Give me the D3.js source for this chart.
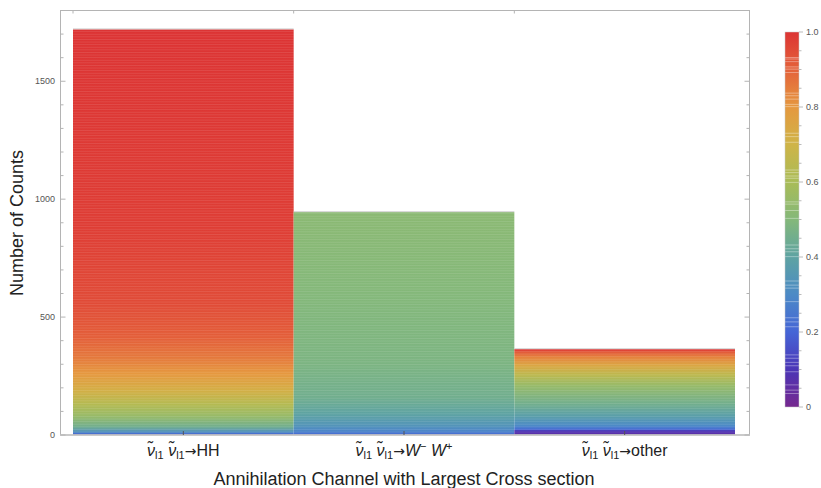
<!doctype html>
<html lang="en">
<head>
<meta charset="utf-8" />
<style>
  body { margin: 0; background: #fff; }
  svg text { font-family: "Liberation Sans", Arial, sans-serif; }
  .tick-label { font-size: 9px; fill: #555; }
</style>
</head>
<body>
<div id="chart"></div>
<script src="https://d3js.org/d3.v7.min.js"></script>
<script>
var width = 821,
    height = 488;

// categories and their total counts
var channels = ["HH", "WW", "other"];
var totals = [1720, 945, 364];

// color value (0..1) along each stacked bar: [cumulative count, value]
var hhProfile = [[0, 0.10], [4, 0.20], [12, 0.32], [35, 0.45], [80, 0.55], [130, 0.63],
                 [190, 0.72], [260, 0.80], [330, 0.86], [420, 0.91], [560, 0.95], [900, 0.98], [1720, 1.0]];
var wwProfile = [[0, 0.12], [4, 0.22], [15, 0.28], [40, 0.34], [90, 0.40], [160, 0.45],
                 [300, 0.48], [600, 0.50], [945, 0.52]];
var otherProfile = [[0, 0.05], [18, 0.10], [24, 0.22], [40, 0.30], [80, 0.38], [130, 0.45],
                    [210, 0.55], [255, 0.65], [295, 0.75], [330, 0.84], [352, 0.92], [364, 1.0]];
var profiles = [hhProfile, wwProfile, otherProfile];

// Rainbow color scheme stops
var rainbowStops = [0, 0.1, 0.2, 0.3, 0.4, 0.5, 0.6, 0.7, 0.8, 0.9, 1.0];
var rainbowColors = ["#76288f", "#4b35b6", "#4565d6", "#4c8ac6", "#5ea3a2", "#84b87a",
                     "#a9bc57", "#cfb447", "#e5983f", "#e4623a", "#dc3434"];

var yTicks = [0, 500, 1000, 1500];
var legendTicks = [0, 0.2, 0.4, 0.6, 0.8, 1.0];
// faint light bands seen in the legend bar
var legendGaps = [0.932, 0.928, 0.921, 0.907, 0.901, 0.892, 0.837, 0.830, 0.821, 0.807, 0.801,
                  0.730, 0.721, 0.706, 0.632, 0.625, 0.616, 0.610, 0.599, 0.547, 0.541, 0.524,
                  0.503, 0.432, 0.422, 0.414, 0.401, 0.336, 0.325, 0.317, 0.281, 0.238, 0.227,
                  0.214, 0.139, 0.130, 0.119, 0.110, 0.094, 0.059, 0.045, 0.036];

var svg = d3.select("#chart").append("svg")
    .attr("width", width)
    .attr("height", height);

var frame = {left: 60.5, right: 749.5, top: 10.5, bottom: 435};

var x = d3.scaleBand().domain(channels).range([73, 735]).padding(0);
var y = d3.scaleLinear().domain([0, 1800]).range([frame.bottom, frame.top]);
var color = d3.scaleLinear().domain(rainbowStops).range(rainbowColors);
var cbar = d3.scaleLinear().domain([0, 1]).range([407, 32]);

var defs = svg.append("defs");

// one gradient per bar, stops from the profile
profiles.forEach(function(p, i) {
  var total = totals[i];
  var g = defs.append("linearGradient")
      .attr("id", "grad" + i)
      .attr("gradientUnits", "userSpaceOnUse")
      .attr("x1", 0).attr("x2", 0)
      .attr("y1", y(0)).attr("y2", y(total));
  g.selectAll("stop").data(p).enter().append("stop")
      .attr("offset", function(d) { return d[0] / total; })
      .attr("stop-color", function(d) { return color(d[1]); });
});

// thin slice lines
var pat = defs.append("pattern")
    .attr("id", "slices")
    .attr("patternUnits", "userSpaceOnUse")
    .attr("width", 10).attr("height", 2.6);
pat.append("rect").attr("width", 10).attr("height", 0.6)
    .attr("fill", "#fff").attr("opacity", 0.15);

// bars
var bars = svg.append("g").attr("id", "bars");
bars.selectAll("rect.bar")
    .data(channels)
  .enter().append("rect")
    .attr("class", "bar")
    .attr("x", function(d) { return x(d); })
    .attr("width", x.bandwidth())
    .attr("y", function(d, i) { return y(totals[i]); })
    .attr("height", function(d, i) { return y(0) - y(totals[i]); })
    .attr("fill", function(d, i) { return "url(#grad" + i + ")"; });
bars.selectAll("rect.sl")
    .data(channels)
  .enter().append("rect")
    .attr("class", "sl")
    .attr("x", function(d) { return x(d); })
    .attr("width", x.bandwidth())
    .attr("y", function(d, i) { return y(totals[i]); })
    .attr("height", function(d, i) { return y(0) - y(totals[i]); })
    .attr("fill", "url(#slices)");
// thin light edge on top of each bar
bars.selectAll("line.top")
    .data(channels)
  .enter().append("line")
    .attr("x1", function(d) { return x(d); })
    .attr("x2", function(d) { return x(d) + x.bandwidth(); })
    .attr("y1", function(d, i) { return y(totals[i]) - 0.5; })
    .attr("y2", function(d, i) { return y(totals[i]) - 0.5; })
    .attr("stroke", "#c8c8c8").attr("stroke-width", 0.8);

// frame
var axes = svg.append("g").attr("id", "axes");
axes.append("rect")
    .attr("x", frame.left).attr("y", frame.top)
    .attr("width", frame.right - frame.left).attr("height", frame.bottom - frame.top)
    .attr("fill", "none").attr("stroke", "#b4b4b4").attr("stroke-width", 1);
axes.append("line")
    .attr("x1", frame.left - 0.5).attr("x2", frame.right + 0.5)
    .attr("y1", frame.bottom).attr("y2", frame.bottom)
    .attr("stroke", "#c4c4c4").attr("stroke-width", 1.6);

// y ticks (left + right, inward)
var minor = d3.range(0, 1801, 100);
minor.forEach(function(v) {
  var major = v % 500 === 0;
  var len = major ? 5 : 3;
  axes.append("line").attr("x1", frame.left).attr("x2", frame.left + len)
      .attr("y1", y(v)).attr("y2", y(v)).attr("stroke", "#b4b4b4");
  axes.append("line").attr("x1", frame.right).attr("x2", frame.right - len)
      .attr("y1", y(v)).attr("y2", y(v)).attr("stroke", "#b4b4b4");
});
axes.selectAll("text.ylab")
    .data(yTicks)
  .enter().append("text")
    .attr("class", "tick-label")
    .attr("x", 55)
    .attr("y", function(d) { return y(d) + 3; })
    .attr("text-anchor", "end")
    .text(function(d) { return d; });

// x ticks: centers at bottom, bar edges at top
channels.forEach(function(c) {
  var cx = x(c) + x.bandwidth() / 2;
  axes.append("line").attr("x1", cx).attr("x2", cx)
      .attr("y1", frame.bottom).attr("y2", frame.bottom - 4)
      .attr("stroke", "#555");
  axes.append("line").attr("x1", x(c)).attr("x2", x(c))
      .attr("y1", frame.top).attr("y2", frame.top + 3)
      .attr("stroke", "#b4b4b4");
});

// category labels
var labels = svg.append("g").attr("id", "xlabels")
    .attr("font-size", 16).attr("fill", "#222");
channels.forEach(function(c) {
  var t = labels.append("text")
      .attr("x", x(c) + x.bandwidth() / 2)
      .attr("y", 456)
      .attr("text-anchor", "middle");
  t.append("tspan").attr("font-style", "italic").text("\u03BD\u0303");
  t.append("tspan").attr("font-size", 11).attr("dy", 3).text("l1");
  t.append("tspan").attr("dy", -3).text(" ");
  t.append("tspan").attr("font-style", "italic").text("\u03BD\u0303");
  t.append("tspan").attr("font-size", 11).attr("dy", 3).text("l1");
  if (c === "WW") {
    t.append("tspan").attr("dy", -3).attr("font-family", "DejaVu Sans").attr("font-size", 14).text("\u2192");
    t.append("tspan").attr("font-style", "italic").text("W");
    t.append("tspan").attr("font-size", 11).attr("dy", -6).text("\u2212");
    t.append("tspan").attr("dy", 6).attr("font-style", "italic").text(" W");
    t.append("tspan").attr("font-size", 11).attr("dy", -6).text("+");
  } else {
    t.append("tspan").attr("dy", -3).attr("font-family", "DejaVu Sans").attr("font-size", 14).text("\u2192");
    t.append("tspan").text(c);
  }
});

// axis titles
svg.append("text")
    .attr("x", 404).attr("y", 485)
    .attr("text-anchor", "middle")
    .attr("font-size", 18).attr("fill", "#222")
    .text("Annihilation Channel with Largest Cross section");
svg.append("text")
    .attr("transform", "translate(23," + 223 + ") rotate(-90)")
    .attr("text-anchor", "middle")
    .attr("font-size", 18).attr("fill", "#222")
    .text("Number of Counts");

// legend color bar
var legend = svg.append("g").attr("id", "legend");
var lgrad = defs.append("linearGradient")
    .attr("id", "lgrad")
    .attr("gradientUnits", "userSpaceOnUse")
    .attr("x1", 0).attr("x2", 0)
    .attr("y1", cbar(0)).attr("y2", cbar(1));
lgrad.selectAll("stop").data(rainbowStops).enter().append("stop")
    .attr("offset", function(d) { return d; })
    .attr("stop-color", function(d) { return color(d); });
legend.append("rect")
    .attr("x", 785).attr("y", cbar(1))
    .attr("width", 14).attr("height", cbar(0) - cbar(1))
    .attr("fill", "url(#lgrad)");
legend.selectAll("line.gap")
    .data(legendGaps)
  .enter().append("line")
    .attr("x1", 785).attr("x2", 799)
    .attr("y1", function(d) { return cbar(d); })
    .attr("y2", function(d) { return cbar(d); })
    .attr("stroke", "#fff").attr("stroke-opacity", 0.45).attr("stroke-width", 0.8);
legend.append("rect")
    .attr("x", 785).attr("y", cbar(1))
    .attr("width", 14).attr("height", cbar(0) - cbar(1))
    .attr("fill", "none").attr("stroke", "#ccc").attr("stroke-width", 0.5);
d3.range(0, 1.001, 0.05).forEach(function(v) {
  var major = Math.round(v * 100) % 20 === 0;
  legend.append("line")
      .attr("x1", 799).attr("x2", major ? 803 : 801.5)
      .attr("y1", cbar(v)).attr("y2", cbar(v))
      .attr("stroke", "#bbb");
});
legend.selectAll("text")
    .data(legendTicks)
  .enter().append("text")
    .attr("class", "tick-label")
    .attr("x", 806)
    .attr("y", function(d) { return cbar(d) + 3; })
    .text(function(d) { return d === 0 ? "0" : d.toFixed(1); });
</script>
</body>
</html>
